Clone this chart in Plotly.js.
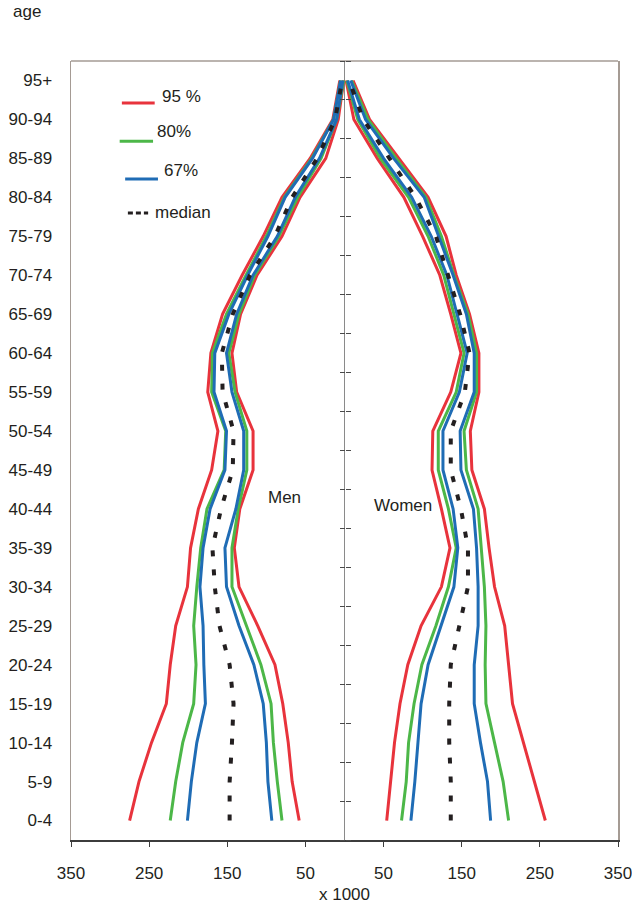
<!DOCTYPE html>
<html>
<head>
<meta charset="utf-8">
<script src="https://cdn.plot.ly/plotly-3.0.1.min.js"></script>
<style>html,body{margin:0;padding:0;background:#fff;}#chart{width:632px;height:910px;}</style>
</head>
<body>
<div id="chart"></div>
<script>
// Age groups (bottom to top)
const ages = ['0-4','5-9','10-14','15-19','20-24','25-29','30-34','35-39','40-44','45-49','50-54','55-59','60-64','65-69','70-74','75-79','80-84','85-89','90-94','95+'];

// Men (thousands) - prediction interval bounds and median
const menRed95Upper   = [275,263,247,228,223,216,201,197,187,170,162,175,171,156,131,104,80,44,15,6];
const menGreen80Upper = [223,216,207,193,190,193,189,184,176,154,152,170,169,151,126,100,77,42,14,5];
const menBlue67Upper  = [201,196,189,178,180,181,185,181,172,153,151,167,166,148,124,98,76,41,14,5];
const menMedian       = [147,147,144,142,147,160,166,169,158,143,142,156,157,143,121,89,67,35,12,3];
const menBlue67Lower  = [93,98,100,104,116,135,151,153,139,129,129,144,151,138,117,86,63,32,10,2];
const menGreen80Lower = [80,86,91,94,107,125,144,144,136,125,125,140,148,135,115,84,60,30,10,1];
const menRed95Lower   = [58,67,72,79,89,111,135,141,134,117,117,138,144,133,112,80,57,24,8,1];

// Women (thousands)
const womenRed95Lower   = [54,59,64,71,81,98,124,135,124,112,113,136,149,136,122,100,76,42,12,2];
const womenGreen80Lower = [73,79,82,89,99,117,133,143,133,120,120,143,153,140,127,107,82,46,17,3];
const womenBlue67Lower  = [85,90,94,98,107,124,140,145,139,126,126,147,157,144,131,111,86,50,19,4];
const womenMedian       = [136,136,134,134,136,147,158,158,149,136,136,154,160,148,133,117,91,57,24,6];
const womenBlue67Upper  = [187,183,174,166,166,171,171,169,165,149,148,166,166,156,139,121,102,63,27,8];
const womenGreen80Upper = [210,203,192,181,180,181,179,175,171,156,153,169,169,158,140,124,104,66,30,9];
const womenRed95Upper   = [257,243,229,215,210,205,192,185,179,163,161,172,172,160,143,130,107,69,32,11];

// Axis ticks
const xTickVals = [-350,-250,-150,-50,50,150,250,350];
const xTickText = xTickVals.map(v => String(Math.abs(v)));

const RED = '#e8333c', GREEN = '#4cb748', BLUE = '#1f6cb5', BLACK = '#231f20';
const FONT = 'Liberation Sans, Arial, sans-serif';

function line(name, vals, sign, color, dash, width) {
  return {
    type: 'scatter', mode: 'lines', name: name,
    x: vals.map(v => sign * v), y: ages,
    line: {color: color, width: width, dash: dash},
    showlegend: false, hoverinfo: 'x+y+name'
  };
}

const traces = [
  line('95 % men upper', menRed95Upper, -1, RED, 'solid', 3),
  line('95 % men lower', menRed95Lower, -1, RED, 'solid', 3),
  line('95 % women lower', womenRed95Lower, 1, RED, 'solid', 3),
  line('95 % women upper', womenRed95Upper, 1, RED, 'solid', 3),
  line('80% men upper', menGreen80Upper, -1, GREEN, 'solid', 3),
  line('80% men lower', menGreen80Lower, -1, GREEN, 'solid', 3),
  line('80% women lower', womenGreen80Lower, 1, GREEN, 'solid', 3),
  line('80% women upper', womenGreen80Upper, 1, GREEN, 'solid', 3),
  line('67% men upper', menBlue67Upper, -1, BLUE, 'solid', 3),
  line('67% men lower', menBlue67Lower, -1, BLUE, 'solid', 3),
  line('67% women lower', womenBlue67Lower, 1, BLUE, 'solid', 3),
  line('67% women upper', womenBlue67Upper, 1, BLUE, 'solid', 3),
  line('median men', menMedian, -1, BLACK, '6px,13px', 4),
  line('median women', womenMedian, 1, BLACK, '6px,13px', 4),
  // invisible anchors so the centre tick axes are drawn
  {type: 'scatter', mode: 'markers', x: [0], y: [0], yaxis: 'y2', marker: {opacity: 0}, showlegend: false, hoverinfo: 'skip'},
  {type: 'scatter', mode: 'markers', x: [0], y: [0], yaxis: 'y3', marker: {opacity: 0}, showlegend: false, hoverinfo: 'skip'}
];

const boundaryAxis = (side) => ({
  overlaying: 'y', anchor: 'free', position: 0.5, side: side,
  range: [-0.5, ages.length - 0.5], tickmode: 'linear', tick0: -0.5, dtick: 1,
  ticks: 'outside', ticklen: 5, tickwidth: 1, tickcolor: '#4a4a4a',
  showticklabels: false, showgrid: false, zeroline: false, showline: false,
  fixedrange: true
});

// Legend geometry in paper coordinates
const legendItems = [
  {label: '95 %', color: RED, dash: 'solid', w: 3, x0: 0.093, x1: 0.153, y: 0.946, tx: 0.162, ty: 0.955},
  {label: '80%', color: GREEN, dash: 'solid', w: 3, x0: 0.089, x1: 0.150, y: 0.897, tx: 0.153, ty: 0.909},
  {label: '67%', color: BLUE, dash: 'solid', w: 3, x0: 0.099, x1: 0.159, y: 0.8485, tx: 0.166, ty: 0.860},
  {label: 'median', color: BLACK, dash: '5px,3px', w: 3, x0: 0.104, x1: 0.141, y: 0.805, tx: 0.150, ty: 0.805}
];

const shapes = [
  {type: 'line', xref: 'paper', yref: 'paper', x0: 0, x1: 1, y0: 1, y1: 1,
   line: {color: '#a59b94', width: 1.5}, layer: 'below'}
].concat(legendItems.map(it => ({
  type: 'line', xref: 'paper', yref: 'paper', x0: it.x0, x1: it.x1, y0: it.y, y1: it.y,
  line: {color: it.color, width: it.w, dash: it.dash}
})));

const annotations = [
  {text: 'age', xref: 'paper', yref: 'paper', x: -0.08, y: 1.063, showarrow: false,
   xanchor: 'center', yanchor: 'middle', font: {family: FONT, size: 17, color: BLACK}},
  {text: 'Men', xref: 'x', yref: 'y', x: -77, y: 8.3, showarrow: false,
   xanchor: 'center', yanchor: 'middle', font: {family: FONT, size: 17, color: BLACK}},
  {text: 'Women', xref: 'x', yref: 'y', x: 75, y: 8.1, showarrow: false,
   xanchor: 'center', yanchor: 'middle', font: {family: FONT, size: 17, color: BLACK}}
].concat(legendItems.map(it => ({
  text: it.label, xref: 'paper', yref: 'paper', x: it.tx, y: it.ty, showarrow: false,
  xanchor: 'left', yanchor: 'middle', font: {family: FONT, size: 17, color: BLACK}
})));

const layout = {
  width: 632, height: 910,
  margin: {l: 71, r: 14, t: 61, b: 70, pad: 0},
  paper_bgcolor: '#ffffff', plot_bgcolor: '#ffffff',
  font: {family: FONT, size: 17, color: BLACK},
  showlegend: false,
  xaxis: {
    range: [-350, 350], tickmode: 'array', tickvals: xTickVals, ticktext: xTickText,
    ticks: 'outside', ticklen: 5, tickwidth: 1, tickcolor: '#3c3c3c',
    showline: true, linecolor: '#3c3c3c', linewidth: 1.5,
    showgrid: false, zeroline: true, zerolinecolor: '#8a8a8a', zerolinewidth: 1.5,
    ticklabelstandoff: 12, ticklabeloverflow: 'allow',
    tickfont: {family: FONT, size: 17, color: BLACK},
    title: {text: 'x 1000', font: {family: FONT, size: 17, color: BLACK}, standoff: 6},
    fixedrange: true
  },
  yaxis: {
    type: 'category', categoryarray: ages, categoryorder: 'array',
    range: [-0.5, ages.length - 0.5],
    ticks: '', showline: true, linecolor: '#a59b94', linewidth: 1.5, mirror: true,
    showgrid: false, zeroline: false,
    ticklabelstandoff: 14,
    tickfont: {family: FONT, size: 17, color: BLACK},
    fixedrange: true
  },
  yaxis2: boundaryAxis('left'),
  yaxis3: boundaryAxis('right'),
  shapes: shapes,
  annotations: annotations
};

Plotly.newPlot('chart', traces, layout, {displayModeBar: false, staticPlot: true});
</script>
</body>
</html>
